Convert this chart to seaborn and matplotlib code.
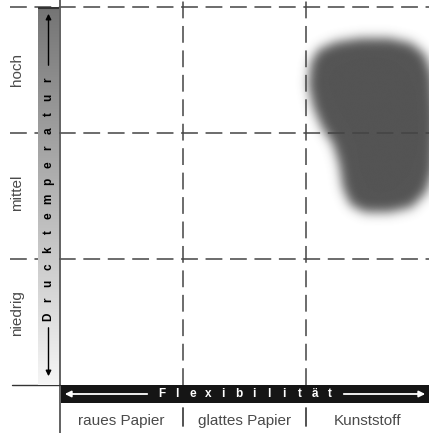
import numpy as np
import matplotlib
matplotlib.use("Agg")
import matplotlib.pyplot as plt
from matplotlib.path import Path
from matplotlib.colors import LinearSegmentedColormap
import seaborn as sns

sns.set_style("white")
plt.rcParams["font.family"] = ["Liberation Sans", "DejaVu Sans"]

# categories
papers = ["raues Papier", "glattes Papier", "Kunststoff"]
temps = ["niedrig", "mittel", "hoch"]
x_title = "Flexibilität"
y_title = "Drucktemperatur"

# outline of the shaded region (column / row units, 0..3)
blob_x = [2.10, 2.24, 2.44, 2.68, 2.86, 2.97, 3.03, 3.06, 3.04, 2.98, 2.86,
          2.68, 2.48, 2.36, 2.30, 2.27, 2.22, 2.13, 2.06, 2.02, 2.04]
blob_y = [2.66, 2.72, 2.75, 2.75, 2.71, 2.62, 2.46, 2.10, 1.71, 1.53, 1.41,
          1.37, 1.37, 1.43, 1.56, 1.75, 1.91, 2.04, 2.20, 2.38, 2.56]

W, H = 429, 433
L, R, T, B = 60, 429, 7, 385          # plot area in pixels
col_w = (R - L) / len(papers)
row_h = (B - T) / len(temps)
temp_label_py = [313, 193, 70]        # label centres as drawn in the source


def px2x(px):
    return (px - L) / col_w


def px2y(py):
    return (B - py) / row_h


fig = plt.figure(figsize=(W / 100, H / 100), dpi=100)
ax = fig.add_axes([L / W, (H - B) / H, (R - L) / W, (B - T) / H])

# soft-edged region
gx = np.arange(1.7, 3.3, 0.004)
gy = np.arange(1.0, 3.0, 0.004)
XX, YY = np.meshgrid(gx, gy)
inside = Path(np.column_stack([blob_x, blob_y])).contains_points(
    np.column_stack([XX.ravel(), YY.ravel()])).reshape(XX.shape).astype(float)
sig = 11
k = np.exp(-0.5 * (np.arange(-3 * sig, 3 * sig + 1) / sig) ** 2)
k /= k.sum()
soft = np.apply_along_axis(lambda r: np.convolve(r, k, mode="same"), 1, inside)
soft = np.apply_along_axis(lambda c: np.convolve(c, k, mode="same"), 0, soft)
rgba = np.zeros(XX.shape + (4,))
rgba[..., :3] = 0x54 / 255
rgba[..., 3] = soft
ax.imshow(rgba, extent=(gx[0], gx[-1], gy[0], gy[-1]), origin="lower",
          aspect="auto", interpolation="bilinear", zorder=1)

ax.set_xlim(0, len(papers))
ax.set_ylim(0, len(temps))
ax.axis("off")

# dashed grid
dash = (0, (11, 5))
for i in range(1, len(papers)):
    ax.plot([i, i], [0, px2y(0)], color="#444444", lw=1.1, ls=dash,
            clip_on=False, zorder=3)
for j in range(1, len(temps) + 1):
    ax.plot([px2x(10), len(papers)], [j, j], color="#444444", lw=1.1, ls=dash,
            clip_on=False, zorder=3)

# solid frame lines
ax.plot([0, 0], [px2y(0), px2y(H)], color="#555555", lw=1.3, clip_on=False, zorder=4)
ax.plot([px2x(12), 0], [0, 0], color="#333333", lw=1.0, clip_on=False, zorder=4)
for i in range(1, len(papers)):
    ax.plot([i, i], [px2y(408), px2y(426)], color="#444444", lw=1.3,
            clip_on=False, zorder=4)

# category labels
for i, name in enumerate(papers):
    ax.text(i + 0.5, px2y(421), name, ha="center", va="center",
            fontsize=11, color="#4a4a4a")
for name, py in zip(temps, temp_label_py):
    ax.text(px2x(17), px2y(py), name, rotation=90, ha="center", va="center",
            fontsize=11, color="#4a4a4a")

# vertical gradient bar
bar = fig.add_axes([38 / W, (H - B) / H, 21 / W, (B - T) / H])
cmap = LinearSegmentedColormap.from_list("temp", ["#f6f6f6", "#747474"])
bar.imshow(np.linspace(0, 1, 256)[:, None], cmap=cmap, aspect="auto",
           origin="lower", extent=(38, 59, B, T))
bar.set_xlim(38, 59)
bar.set_ylim(B, T)
bar.axis("off")
bar.plot([38, 59], [T + 0.5, T + 0.5], color="#333333", lw=1.5)
for ch, yy in zip(y_title, np.linspace(317, 80, len(y_title))):
    bar.text(48.5, yy, ch, rotation=90, ha="center", va="center",
             fontsize=8.5, fontweight="bold", color="black")
arrow = dict(arrowstyle="-|>", color="black", lw=1.0, mutation_scale=8)
bar.annotate("", xy=(48.5, 11), xytext=(48.5, 68), arrowprops=arrow)
bar.annotate("", xy=(48.5, 379), xytext=(48.5, 325), arrowprops=arrow)

# horizontal black bar
hbar = fig.add_axes([61 / W, (H - 403) / H, (R - 61) / W, 18 / H])
hbar.set_facecolor("#151515")
hbar.set_xticks([])
hbar.set_yticks([])
for s in hbar.spines.values():
    s.set_visible(False)
hbar.set_xlim(61, R)
hbar.set_ylim(403, 385)
for ch, xx in zip(x_title, np.linspace(162, 330, len(x_title))):
    hbar.text(xx, 394.5, ch, ha="center", va="center", fontsize=8.5,
              fontweight="bold", color="white")
warrow = dict(arrowstyle="-|>", color="white", lw=1.3, mutation_scale=9)
hbar.annotate("", xy=(62, 394), xytext=(150, 394), arrowprops=warrow)
hbar.annotate("", xy=(428, 394), xytext=(341, 394), arrowprops=warrow)

fig.savefig("out.png", dpi=100)
